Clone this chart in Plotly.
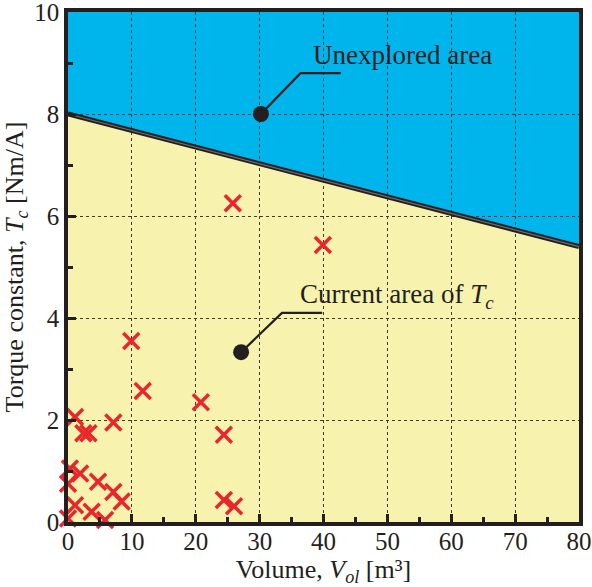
import plotly.graph_objects as go

# ---- data ----
vol = [25.8, 39.9, 9.9, 11.7, 20.8, 24.4, 24.4, 26.0,
       1.1, 2.4, 3.2, 7.1,
       0.3, 1.9, 4.7, 7.1, 8.4, 0.0, 1.1, 3.7, 0.0, 5.8]
tc = [6.25, 5.43, 3.55, 2.57, 2.35, 1.71, 0.43, 0.31,
      2.06, 1.74, 1.74, 1.95,
      1.05, 0.95, 0.79, 0.59, 0.40, 0.75, 0.33, 0.20, 0.07, 0.04]

boundary_x = [0, 80]
boundary_y = [8.0, 5.4]

x_range = [0, 80]
y_range = [0, 10]
x_ticks = [0, 10, 20, 30, 40, 50, 60, 70, 80]
y_ticks = [0, 2, 4, 6, 8, 10]

# annotation: dot, elbow, end (data coords)
unexp_leader_x = [30.2, 36.4, 42.7]
unexp_leader_y = [8.0, 8.8, 8.8]
unexp_text = "Unexplored area"
unexp_text_pos = (38.3, 9.16)

curr_leader_x = [27.1, 33.5, 39.8]
curr_leader_y = [3.33, 4.1, 4.1]
curr_text = "Current area of <i>T<sub>c</sub></i>"
curr_text_pos = (36.3, 4.43)

FONT = "Liberation Serif"
BLUE = "#00B5EC"
YELLOW = "#F7F2AE"
RED = "#E8262B"
INK = "#231F20"

fig = go.Figure()

# filled regions as shapes beneath the grid
def poly(points):
    return "M " + " L ".join(f"{px},{py}" for px, py in points) + " Z"

yellow_pts = [(boundary_x[0], y_range[0]), (boundary_x[0], boundary_y[0]),
              (boundary_x[1], boundary_y[1]), (boundary_x[1], y_range[0])]
blue_pts = [(boundary_x[0], boundary_y[0]), (boundary_x[0], y_range[1]),
            (boundary_x[1], y_range[1]), (boundary_x[1], boundary_y[1])]

fig.add_shape(type="path", path=poly(yellow_pts), fillcolor=YELLOW,
              line=dict(width=0), layer="below", xref="x", yref="y")
fig.add_shape(type="path", path=poly(blue_pts), fillcolor=BLUE,
              line=dict(width=0), layer="below", xref="x", yref="y")

# boundary line (double-ish)
fig.add_trace(go.Scatter(x=boundary_x, y=boundary_y, mode="lines",
                         line=dict(color=INK, width=5), hoverinfo="skip",
                         showlegend=False))
fig.add_trace(go.Scatter(x=boundary_x, y=boundary_y, mode="lines",
                         line=dict(color="#6d6d6d", width=1.2), hoverinfo="skip",
                         showlegend=False))

# data points
fig.add_trace(go.Scatter(x=vol, y=tc, mode="markers",
                         marker=dict(symbol="x-thin", size=16,
                                     line=dict(color=RED, width=3.5)),
                         cliponaxis=False, showlegend=False))

# leaders
for lx, ly in [(unexp_leader_x, unexp_leader_y), (curr_leader_x, curr_leader_y)]:
    fig.add_trace(go.Scatter(x=lx, y=ly, mode="lines",
                             line=dict(color=INK, width=2.2),
                             showlegend=False, hoverinfo="skip"))
    fig.add_trace(go.Scatter(x=[lx[0]], y=[ly[0]], mode="markers",
                             marker=dict(color=INK, size=16),
                             showlegend=False, hoverinfo="skip"))

for txt, (tx, ty) in [(unexp_text, unexp_text_pos), (curr_text, curr_text_pos)]:
    fig.add_annotation(x=tx, y=ty, text=txt, showarrow=False, xanchor="left",
                       yanchor="middle", xshift=-2,
                       font=dict(family=FONT, size=27, color=INK))

axis_common = dict(
    showline=True, linecolor=INK, linewidth=3.5, mirror=True,
    ticks="inside", ticklen=8, tickwidth=2.5, tickcolor=INK,
    showgrid=True, gridcolor="#3a3a3a", gridwidth=1, griddash="3px,3px",
    zeroline=False, automargin=False, ticklabeloverflow="allow",
    tickfont=dict(family=FONT, size=25, color=INK),
)

fig.update_xaxes(range=x_range, tickvals=x_ticks, **axis_common,
                 ticklabelstandoff=-6,
                 minor=dict(ticks="inside", dtick=5, ticklen=5, tickwidth=2.5,
                            tickcolor=INK, showgrid=False),
                 title=dict(text="Volume, <i>V<sub>ol</sub></i> [m³]",
                            font=dict(family=FONT, size=26, color=INK), standoff=6))
fig.update_yaxes(range=y_range, tickvals=y_ticks, **axis_common,
                 minor=dict(ticks="inside", dtick=1, ticklen=5, tickwidth=2.5,
                            tickcolor=INK, showgrid=False),
                 title=dict(text="Torque constant, <i>T<sub>c</sub></i> [Nm/A]",
                            font=dict(family=FONT, size=26, color=INK), standoff=8))

fig.update_layout(
    width=592, height=587,
    margin=dict(l=68, r=13, t=12, b=65),
    paper_bgcolor="white", plot_bgcolor="white",
    showlegend=False,
)

fig.write_html("out.html")
